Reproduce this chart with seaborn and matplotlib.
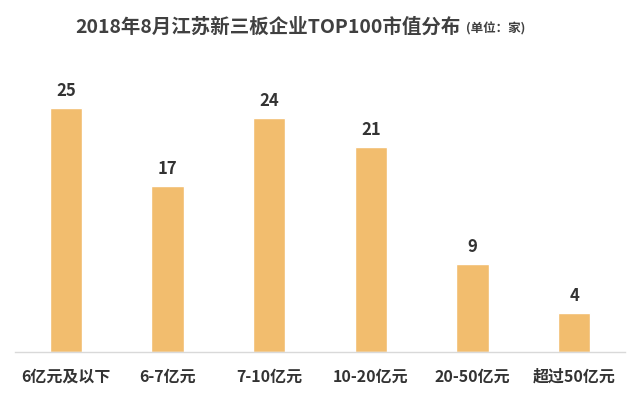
import pandas as pd
import seaborn as sns
import matplotlib.pyplot as plt

categories = ["6亿元及以下", "6-7亿元", "7-10亿元", "10-20亿元", "20-50亿元", "超过50亿元"]
counts = [25, 17, 24, 21, 9, 4]

df = pd.DataFrame({"range": categories, "count": counts})

sns.set_style("white")
plt.rcParams['font.family'] = ['Noto Sans CJK SC', 'DejaVu Sans']

fig = plt.figure(figsize=(6.4, 3.99), dpi=100)
ax = fig.add_axes([0.0234, 0.118, 0.9531, 0.684])

sns.barplot(data=df, x="range", y="count", color="#F2BD6E", saturation=1,
            width=0.32, ax=ax)
ax.bar_label(ax.containers[0], fmt="%d", padding=6, fontsize=12,
             fontweight="bold", color="#333333")

ax.set_xlim(-0.5, 5.5)
ax.set_ylim(0, 28)
ax.set_xlabel("")
ax.set_ylabel("")
ax.set_yticks([])
for s in ["top", "right", "left"]:
    ax.spines[s].set_visible(False)
ax.spines["bottom"].set_color("#D9D9D9")
ax.spines["bottom"].set_linewidth(1)
ax.tick_params(axis="x", length=0, pad=12, labelsize=11.5, labelcolor="#333333")
for t in ax.get_xticklabels():
    t.set_fontweight("bold")

fig.text(0.117, 0.932, "2018年8月江苏新三板企业TOP100市值分布", fontsize=14,
         fontweight="bold", color="#404040", ha="left", va="center")
fig.text(0.728, 0.928, "(单位：家)", fontsize=9, fontweight="bold",
         color="#404040", ha="left", va="center")

fig.savefig("out.png", dpi=100)
